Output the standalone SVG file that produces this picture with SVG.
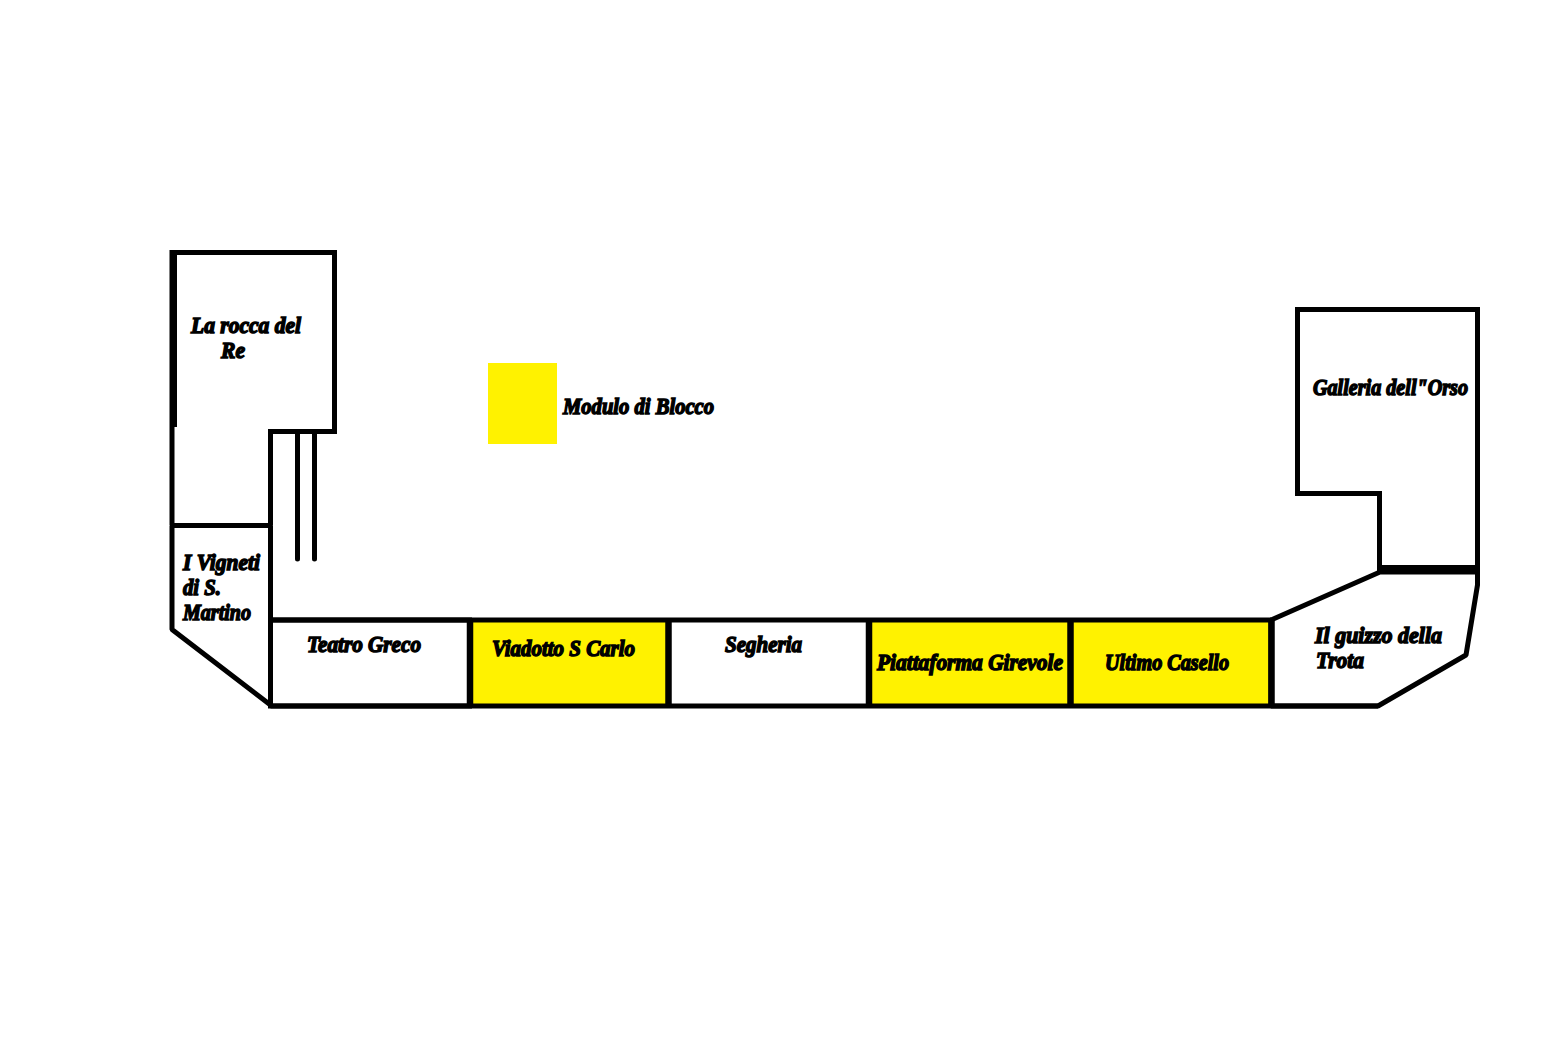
<svg xmlns="http://www.w3.org/2000/svg" width="1568" height="1048" viewBox="0 0 1568 1048">
<style>
.l{fill:none;stroke:#000;stroke-width:5;stroke-linejoin:miter}
.b{stroke-linejoin:bevel}
.y{fill:#fff200}
text{font-family:"Liberation Serif","Times New Roman",serif;font-weight:bold;font-style:italic;font-size:23px;fill:#000;stroke:#000;stroke-width:1.5}
</style>
<rect width="1568" height="1048" fill="#fff"/>
<g id="legend"><rect class="y" x="488" y="363" width="69" height="81"/><text x="563" y="414" textLength="151" lengthAdjust="spacingAndGlyphs">Modulo di Blocco</text></g>
<g id="rocca"><path class="l" d="M172 525V252.500H334.500V431.500H270.500V525"/><rect x="170" y="250" width="7" height="177"/><text x="191" y="333" textLength="110" lengthAdjust="spacingAndGlyphs">La rocca del</text><text x="221" y="358" textLength="24" lengthAdjust="spacingAndGlyphs">Re</text></g>
<g id="vigneti"><path class="l b" d="M172 525.500H270.500V705L172 629.500Z"/><text x="183" y="570" textLength="77" lengthAdjust="spacingAndGlyphs">I Vigneti</text><text x="183" y="595" textLength="38" lengthAdjust="spacingAndGlyphs">di S.</text><text x="183" y="620" textLength="68" lengthAdjust="spacingAndGlyphs">Martino</text></g>
<g id="teatro"><rect class="l" x="270.500" y="620" width="199" height="86"/><text x="307" y="652" textLength="114" lengthAdjust="spacingAndGlyphs">Teatro Greco</text></g>
<g id="viadotto"><rect class="y" x="470" y="620" width="198" height="86"/><text x="492" y="656" textLength="143" lengthAdjust="spacingAndGlyphs">Viadotto S Carlo</text></g>
<g id="segheria"><text x="725" y="652" textLength="77" lengthAdjust="spacingAndGlyphs">Segheria</text></g>
<g id="piattaforma"><rect class="y" x="869" y="620" width="202" height="86"/><text x="877" y="670" textLength="186" lengthAdjust="spacingAndGlyphs">Piattaforma Girevole</text></g>
<g id="casello"><rect class="y" x="1071" y="620" width="200" height="86"/><text x="1105" y="670" textLength="124" lengthAdjust="spacingAndGlyphs">Ultimo Casello</text></g>
<g id="guizzo"><path class="l b" d="M1271 620L1380 572H1477.500V585L1466 655L1378 706H1271Z"/><text x="1315" y="643" textLength="127" lengthAdjust="spacingAndGlyphs">Il guizzo della</text><text x="1316" y="668" textLength="48" lengthAdjust="spacingAndGlyphs">Trota</text></g>
<g id="galleria"><path class="l" d="M1379.500 569V493.500H1297.500V309.500H1477.500V569"/><rect x="1377" y="565" width="103" height="8"/><text x="1313" y="395" textLength="155" lengthAdjust="spacingAndGlyphs">Galleria dell"Orso</text></g>
<g id="connectors">
<path class="l" d="M270.500 620H1271M270.500 706H1378"/>
<path d="M470 620V706M668.500 620V706M869 620V706M1070.500 620V706M1271.500 620V706" fill="none" stroke="#000" stroke-width="6.500"/>
<path d="M297.500 434V559M314.500 434V559" fill="none" stroke="#000" stroke-width="5" stroke-linecap="round"/>
</g>
</svg>
